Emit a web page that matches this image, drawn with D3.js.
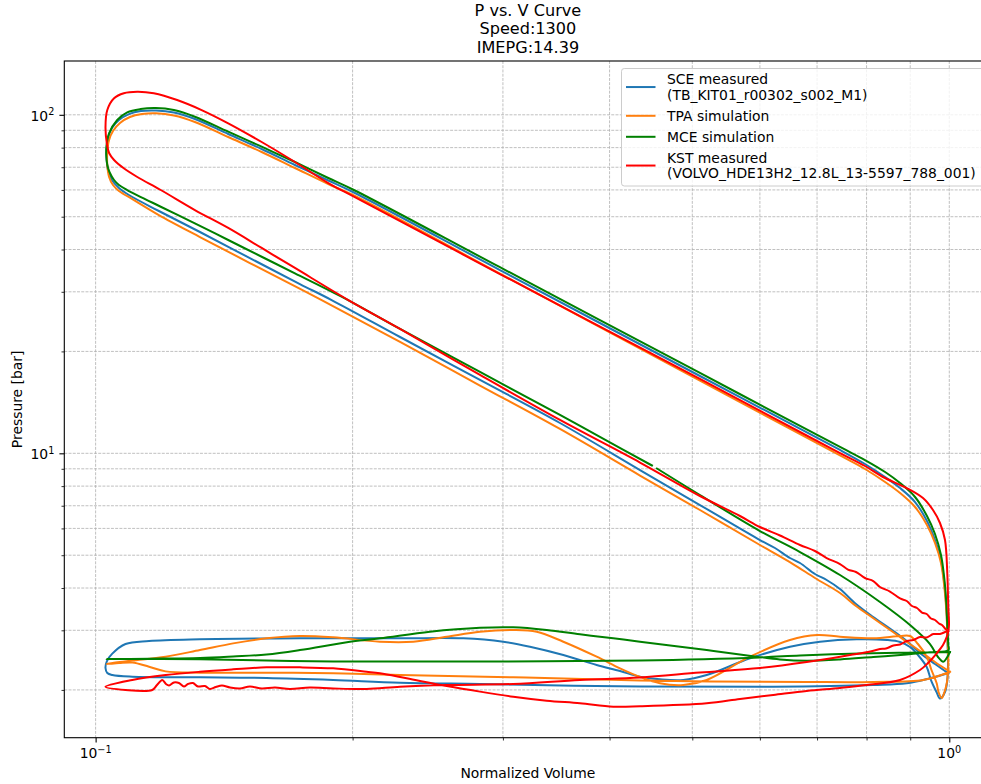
<!DOCTYPE html>
<html>
<head>
<meta charset="utf-8">
<script src="https://cdn.jsdelivr.net/npm/d3@7"></script>
<style>
  body { margin: 0; background: #fff; }
  text { font-family: "DejaVu Sans", sans-serif; fill: #000; }
</style>
</head>
<body>
<div id="chart"></div>
<script>
var svgWidth = 981;
var svgHeight = 784;

// plot area (the right spine falls just outside the picture)
var plot = { left: 64.3, top: 61, right: 991.5, bottom: 737.7 };

var titleLines = ["P vs. V Curve", "Speed:1300", "IMEPG:14.39"];
var xLabel = "Normalized Volume";
var yLabel = "Pressure [bar]";

var xLimits = [0.0919, 1.1206];
var yLimits = [1.445, 144.2];
var xMajorTicks = [0.1, 1];
var xMajorExp = ["\u22121", "0"];
var xMinorTicks = [0.2, 0.3, 0.4, 0.5, 0.6, 0.7, 0.8, 0.9];
var yMajorTicks = [10, 100];
var yMajorExp = ["1", "2"];
var yMinorTicks = [2, 3, 4, 5, 6, 7, 8, 9, 20, 30, 40, 50, 60, 70, 80, 90];

var seriesNames = [
  "SCE measured\n(TB_KIT01_r00302_s002_M1)",
  "TPA simulation",
  "MCE simulation",
  "KST measured\n(VOLVO_HDE13H2_12.8L_13-5597_788_001)"
];
var seriesColors = ["#1f77b4", "#ff7f0e", "green", "red"];

// SCE measured
var sceV = [0.9973, 0.9622, 0.9240, 0.8916, 0.8600, 0.8146, 0.7775, 0.7447, 0.7184, 0.6961,
  0.6685, 0.6507, 0.6249, 0.6001, 0.5104, 0.4342, 0.3499, 0.2820, 0.2273, 0.1890,
  0.1735, 0.1516, 0.1325, 0.1186, 0.1094, 0.1065, 0.1045, 0.1034, 0.1030, 0.1030,
  0.1034, 0.1045, 0.1065, 0.1094, 0.1130, 0.1177, 0.1235, 0.1307, 0.1430, 0.1565,
  0.1712, 0.1873, 0.2007, 0.2976, 0.5104, 0.7447, 0.7966, 0.8410, 0.8756, 0.9118,
  0.9416, 0.9622, 0.9779, 0.9871, 0.9925, 0.9952, 0.9965, 0.9946, 0.9885, 0.9752,
  0.9661, 0.9518, 0.9409, 0.9190, 0.8995, 0.8756, 0.8453, 0.7790, 0.7056, 0.6507,
  0.5842, 0.5198, 0.4880, 0.4582, 0.4342, 0.4114, 0.3863, 0.3531, 0.3227, 0.3003,
  0.2696, 0.2273, 0.1735, 0.1325, 0.1155, 0.1084, 0.1046, 0.1031, 0.1027, 0.1032,
  0.1046, 0.1104, 0.1325, 0.1586, 0.1898, 0.2273, 0.2820, 0.4342, 0.6221, 0.8146,
  0.8916, 0.9493];
var sceP = [2.239, 2.385, 2.571, 2.789, 2.986, 3.284, 3.588, 3.973, 4.224, 4.400,
  4.742, 4.906, 5.251, 5.545, 7.035, 8.926, 12.29, 16.47, 22.06, 28.37,
  31.63, 37.73, 45.06, 51.98, 57.95, 60.78, 64.18, 68.70, 74.54, 78.71,
  85.40, 91.41, 96.53, 100.5, 102.6, 103.0, 101.6, 97.18, 87.76, 79.24,
  71.07, 63.96, 58.95, 34.79, 16.92, 10.23, 9.298, 8.511, 7.898, 7.180,
  6.310, 5.545, 4.839, 4.083, 3.444, 2.808, 2.369, 2.139, 1.972, 1.886,
  1.972, 2.139, 2.337, 2.536, 2.678, 2.770, 2.808, 2.822, 2.776, 2.683,
  2.480, 2.213, 2.140, 2.150, 2.188, 2.274, 2.369, 2.536, 2.683, 2.776,
  2.841, 2.841, 2.841, 2.822, 2.789, 2.733, 2.560, 2.434, 2.321, 2.244,
  2.213, 2.188, 2.179, 2.169, 2.140, 2.101, 2.082, 2.047, 2.044, 2.068,
  2.092, 2.164];

// TPA simulation
var tpaV = [1.0019, 0.9622, 0.9240, 0.8922, 0.8591, 0.8140, 0.7775, 0.7447, 0.6961, 0.6560,
  0.6001, 0.5104, 0.4342, 0.3499, 0.2820, 0.2273, 0.1840, 0.1516, 0.1325, 0.1186,
  0.1109, 0.1065, 0.1048, 0.1037, 0.1032, 0.1032, 0.1037, 0.1048, 0.1068, 0.1097,
  0.1133, 0.1177, 0.1235, 0.1307, 0.1430, 0.1565, 0.1712, 0.1873, 0.2007, 0.2976,
  0.5104, 0.7447, 0.7966, 0.8410, 0.8756, 0.9118, 0.9416, 0.9622, 0.9779, 0.9871,
  0.9925, 0.9952, 0.9973, 0.9938, 0.9871, 0.9797, 0.9713, 0.9666, 0.9531, 0.9409,
  0.9190, 0.8995, 0.8756, 0.8146, 0.7447, 0.7003, 0.6507, 0.5842, 0.5198, 0.4880,
  0.4582, 0.4342, 0.4114, 0.3863, 0.3531, 0.3286, 0.3085, 0.2820, 0.2578, 0.2356,
  0.2153, 0.1898, 0.1735, 0.1586, 0.1449, 0.1325, 0.1208, 0.1104, 0.1055, 0.1030,
  0.1065, 0.1104, 0.1155, 0.1208, 0.1325, 0.1586, 0.1898, 0.2273, 0.3085, 0.4342,
  0.6807, 0.8146, 0.9323];
var tpaP = [2.263, 2.418, 2.606, 2.770, 2.965, 3.262, 3.539, 3.866, 4.282, 4.709,
  5.360, 6.800, 8.598, 11.80, 15.86, 21.33, 28.37, 36.49, 43.55, 50.58,
  56.01, 59.58, 62.03, 65.51, 71.07, 77.65, 84.25, 89.56, 94.57, 98.51,
  100.5, 101.0, 99.52, 95.22, 85.98, 77.65, 69.64, 62.45, 57.76, 33.95,
  16.40, 9.853, 8.988, 8.227, 7.634, 6.940, 6.141, 5.433, 4.741, 4.000,
  3.374, 2.808, 2.369, 2.111, 1.972, 1.893, 1.972, 2.092, 2.290, 2.507,
  2.733, 2.886, 2.886, 2.841, 2.872, 2.905, 2.808, 2.507, 2.140, 2.068,
  2.092, 2.184, 2.316, 2.507, 2.776, 2.972, 3.006, 2.972, 2.872, 2.776,
  2.776, 2.860, 2.886, 2.841, 2.745, 2.623, 2.507, 2.443, 2.410, 2.385,
  2.401, 2.410, 2.342, 2.269, 2.248, 2.248, 2.239, 2.213, 2.179, 2.132,
  2.111, 2.111, 2.140];

// MCE simulation (null = short gap in the trace)
var mceV = [1.0019, 0.9938, 0.9839, 0.9700, 0.9493, 0.8995, 0.8295, 0.7447, 0.6685, 0.6001,
  0.5104, 0.4545, null,
  0.4485, 0.3897, 0.3499, 0.2820, 0.2273, 0.1941, 0.1712, 0.1565, 0.1430, 0.1307,
  0.1192, 0.1089, 0.1065, 0.1051, 0.1038, 0.1032, 0.1029, 0.1030, 0.1037, 0.1060,
  0.1089, 0.1129, 0.1176, 0.1235, 0.1307, 0.1430, 0.1565, 0.1712, 0.1873, 0.2007,
  0.2976, 0.5104, 0.7447, 0.7966, 0.8410, 0.8756, 0.9118, 0.9416, 0.9622, 0.9779,
  0.9871, 0.9925, 0.9952, 0.9973, 0.9978, 0.9493, 0.8916, 0.8146, 0.7447, 0.6807,
  0.6334, 0.5948, 0.5198, 0.4342, 0.4040, 0.3693, 0.3376, 0.3085, 0.2820, 0.2464,
  0.2153, 0.1986, 0.1735, 0.1586, 0.1449, 0.1325, 0.1155, 0.1030, 0.1155, 0.1325,
  0.1898, 0.2820, 0.4342, 0.6001, 0.6685, 0.7859, 0.8916];
var mceP = [2.588, 2.494, 2.423, 2.502, 2.733, 3.110, 3.637, 4.370, 5.110, 5.895,
  7.530, 9.018, null,
  9.204, 11.18, 12.98, 17.39, 23.30, 29.01, 34.02, 38.08, 42.67, 47.81,
  53.51, 59.96, 62.03, 64.18, 67.77, 71.07, 76.08, 81.43, 88.17, 96.53,
  101.7, 104.0, 104.7, 103.3, 98.71, 89.14, 80.50, 72.54, 65.06, 59.96,
  35.46, 17.27, 10.44, 9.555, 8.806, 8.172, 7.429, 6.528, 5.776, 5.007,
  4.224, 3.539, 3.006, 2.714, 2.623, 2.583, 2.545, 2.502, 2.460, 2.439,
  2.460, 2.507, 2.623, 2.776, 2.841, 2.919, 3.006, 3.062, 3.053, 2.972,
  2.841, 2.776, 2.623, 2.545, 2.511, 2.485, 2.473, 2.468, 2.468, 2.463,
  2.426, 2.426, 2.443, 2.494, 2.528, 2.562, 2.576];

// KST measured
var kstV = [0.9973, 0.9885, 0.9805, 0.9726, 0.9622, 0.9518, 0.9409, 0.9290, 0.9166, 0.9043,
  0.8916, 0.8756, 0.8522, 0.8295, 0.8146, 0.7966, 0.7775, 0.7609, 0.7447, 0.7184,
  0.6961, 0.6685, 0.6334, 0.6001, 0.5686, 0.5104, 0.4342, 0.3499, 0.2820, 0.2273,
  0.1977, 0.1712, 0.1565, 0.1430, 0.1307, 0.1192, 0.1119, 0.1079, 0.1051, 0.1037,
  0.1031, 0.1027, 0.1032, 0.1051, 0.1079, 0.1119, 0.1170, 0.1246, 0.1331, 0.1430,
  0.1565, 0.1712, 0.1873, 0.2007, 0.2976, 0.5104, 0.6685, 0.7447, 0.7966, 0.8362,
  0.8916, 0.9315, 0.9570, 0.9752, 0.9885, 0.9946, 0.9973, 0.9992, 0.9965, 0.9930,
  0.9832, 0.9666, 0.9442, 0.9240, 0.8756, 0.8003, 0.7447, 0.6807, 0.6220, 0.5686,
  0.5198, 0.4342, 0.4040, 0.3693, 0.3376, 0.3085, 0.2820, 0.2578, 0.2314, 0.2153,
  0.2077, 0.1898, 0.1735, 0.1586, 0.1449, 0.1325, 0.1208, 0.1104, 0.1027, 0.1084,
  0.1165, 0.1180, 0.1197, 0.1209, 0.1219, 0.1235, 0.1252, 0.1269, 0.1283, 0.1300,
  0.1318, 0.1343, 0.1361, 0.1383, 0.1406, 0.1437, 0.1476, 0.1516, 0.1566, 0.1622,
  0.1689, 0.1782, 0.1898, 0.2077, 0.2273, 0.2578, 0.3085, 0.3693, 0.4342, 0.5104,
  0.6001, 0.6807, 0.7650, 0.8081, 0.8295, 0.8430, 0.8600, 0.8756, 0.8916, 0.9075,
  0.9240, 0.9409, 0.9578, 0.9752, 0.9930];
var kstP = [2.976, 3.037, 3.110, 3.142, 3.218, 3.251, 3.352, 3.386, 3.491, 3.539,
  3.662, 3.725, 3.906, 4.027, 4.195, 4.282, 4.460, 4.536, 4.709, 4.905,
  5.145, 5.360, 5.717, 6.057, 6.528, 7.480, 9.394, 12.55, 17.04, 23.30,
  28.37, 35.28, 40.42, 46.31, 52.33, 59.96, 65.51, 69.50, 73.53, 77.12,
  81.99, 92.03, 103.3, 111.9, 115.8, 117.0, 115.8, 110.6, 103.3, 94.38,
  83.11, 72.54, 62.88, 57.29, 33.86, 16.58, 11.56, 10.02, 9.173, 8.512,
  7.897, 7.378, 6.800, 6.225, 5.545, 4.430, 3.515, 3.110, 2.945, 2.866,
  2.714, 2.566, 2.401, 2.290, 2.140, 2.068, 2.027, 1.986, 1.932, 1.880,
  1.826, 1.789, 1.784, 1.826, 1.859, 1.910, 1.977, 2.054, 2.164, 2.239,
  2.263, 2.316, 2.332, 2.332, 2.300, 2.263, 2.213, 2.140, 2.044, 1.999,
  1.999, 2.068, 2.140, 2.082, 2.061, 2.104, 2.097, 2.047, 2.082, 2.097,
  2.047, 2.054, 2.013, 2.040, 2.061, 2.033, 2.020, 2.047, 2.020, 2.033,
  2.013, 2.033, 2.020, 2.013, 2.044, 2.068, 2.082, 2.140, 2.176, 2.251,
  2.321, 2.418, 2.536, 2.597, 2.641, 2.650, 2.705, 2.724, 2.789, 2.808,
  2.866, 2.857, 2.925, 2.925, 2.976];

var seriesV = [sceV, tpaV, mceV, kstV];
var seriesP = [sceP, tpaP, mceP, kstP];

var svg = d3.select("#chart")
  .append("svg")
  .attr("width", svgWidth)
  .attr("height", svgHeight)
  .style("background", "#fff");

// Step 1: scales
var xScale = d3.scaleLog().domain(xLimits).range([plot.left, plot.right]);
var yScale = d3.scaleLog().domain(yLimits).range([plot.bottom, plot.top]);

// Step 2: grid (major + minor, dashed)
var grid = svg.append("g")
  .attr("stroke", "#b0b0b0")
  .attr("stroke-width", 0.8)
  .attr("stroke-dasharray", "2.96,1.28");

grid.selectAll(".gx").data(xMajorTicks.concat(xMinorTicks)).enter()
  .append("line")
  .attr("x1", d => xScale(d)).attr("x2", d => xScale(d))
  .attr("y1", plot.top).attr("y2", plot.bottom);

grid.selectAll(".gy").data(yMajorTicks.concat(yMinorTicks)).enter()
  .append("line")
  .attr("y1", d => yScale(d)).attr("y2", d => yScale(d))
  .attr("x1", plot.left).attr("x2", plot.right);

// Step 3: curves
svg.append("clipPath").attr("id", "plotClip")
  .append("rect")
  .attr("x", plot.left).attr("y", plot.top)
  .attr("width", plot.right - plot.left).attr("height", plot.bottom - plot.top);

var line = d3.line()
  .defined(d => d[0] != null)
  .x(d => xScale(d[0]))
  .y(d => yScale(d[1]))
  .curve(d3.curveCatmullRom.alpha(0.5));

var curves = svg.append("g").attr("clip-path", "url(#plotClip)");

seriesV.forEach(function(vs, i) {
  var pts = d3.zip(vs, seriesP[i]);
  pts.push(pts[0]); // close the cycle
  curves.append("path")
    .datum(pts)
    .attr("d", line)
    .attr("fill", "none")
    .attr("stroke", seriesColors[i])
    .attr("stroke-width", 2)
    .attr("stroke-linejoin", "round")
    .attr("stroke-linecap", "square");
});

// Step 4: axes (ticks only, labels drawn by hand for the powers of ten)
function bareAxis(axis, values, size, width) {
  return function(g) {
    g.call(axis.tickValues(values).tickSize(size).tickSizeOuter(0).tickFormat(""));
    g.select(".domain").remove();
    g.selectAll(".tick line").attr("stroke", "#000").attr("stroke-width", width);
  };
}

svg.append("g").attr("transform", `translate(0, ${plot.bottom})`)
  .call(bareAxis(d3.axisBottom(xScale), xMajorTicks, 4.9, 1.1));
svg.append("g").attr("transform", `translate(0, ${plot.bottom})`)
  .call(bareAxis(d3.axisBottom(xScale), xMinorTicks, 2.8, 0.8));
svg.append("g").attr("transform", `translate(${plot.left}, 0)`)
  .call(bareAxis(d3.axisLeft(yScale), yMajorTicks, 4.9, 1.1));
svg.append("g").attr("transform", `translate(${plot.left}, 0)`)
  .call(bareAxis(d3.axisLeft(yScale), yMinorTicks, 2.8, 0.8));

// frame
svg.append("rect")
  .attr("x", plot.left).attr("y", plot.top)
  .attr("width", plot.right - plot.left).attr("height", plot.bottom - plot.top)
  .attr("fill", "none").attr("stroke", "#000").attr("stroke-width", 1.1);

function powerLabel(sel, exp) {
  sel.append("tspan").text("10");
  sel.append("tspan").attr("dy", -5.5).attr("font-size", 9.7).text(exp);
}

xMajorTicks.forEach(function(v, i) {
  svg.append("text")
    .attr("x", xScale(v)).attr("y", 758.3)
    .attr("text-anchor", "middle").attr("font-size", 13.9)
    .call(powerLabel, xMajorExp[i]);
});

yMajorTicks.forEach(function(v, i) {
  svg.append("text")
    .attr("x", plot.left - 10).attr("y", yScale(v) + 6)
    .attr("text-anchor", "end").attr("font-size", 13.9)
    .call(powerLabel, yMajorExp[i]);
});

// Step 5: axis labels and title
var midX = (plot.left + plot.right) / 2;

svg.append("text")
  .attr("x", midX).attr("y", 777.5)
  .attr("text-anchor", "middle").attr("font-size", 13.9)
  .text(xLabel);

svg.append("text")
  .attr("transform", `translate(22, ${(plot.top + plot.bottom) / 2}) rotate(-90)`)
  .attr("text-anchor", "middle").attr("font-size", 13.9)
  .text(yLabel);

titleLines.forEach(function(t, i) {
  svg.append("text")
    .attr("x", midX).attr("y", 15.5 + i * 18.8)
    .attr("text-anchor", "middle").attr("font-size", 16.1)
    .text(t);
});

// Step 6: legend
var legend = svg.append("g");
legend.append("rect")
  .attr("x", 621.5).attr("y", 68.5)
  .attr("width", 370).attr("height", 117.5)
  .attr("rx", 2.8)
  .attr("fill", "#fff").attr("fill-opacity", 0.8)
  .attr("stroke", "#cccccc").attr("stroke-width", 1);

var baseline = 84.3;
seriesNames.forEach(function(name, i) {
  var rows = name.split("\n");
  var first = baseline;
  rows.forEach(function(r, j) {
    legend.append("text")
      .attr("x", 667).attr("y", first + j * 15.5)
      .attr("font-size", 13.9)
      .text(r);
  });
  var last = first + (rows.length - 1) * 15.5;
  var hy = (first + last) / 2 - 5;
  legend.append("line")
    .attr("x1", 626).attr("x2", 655.5)
    .attr("y1", hy).attr("y2", hy)
    .attr("stroke", seriesColors[i]).attr("stroke-width", 2);
  baseline = last + 21;
});
</script>
</body>
</html>
